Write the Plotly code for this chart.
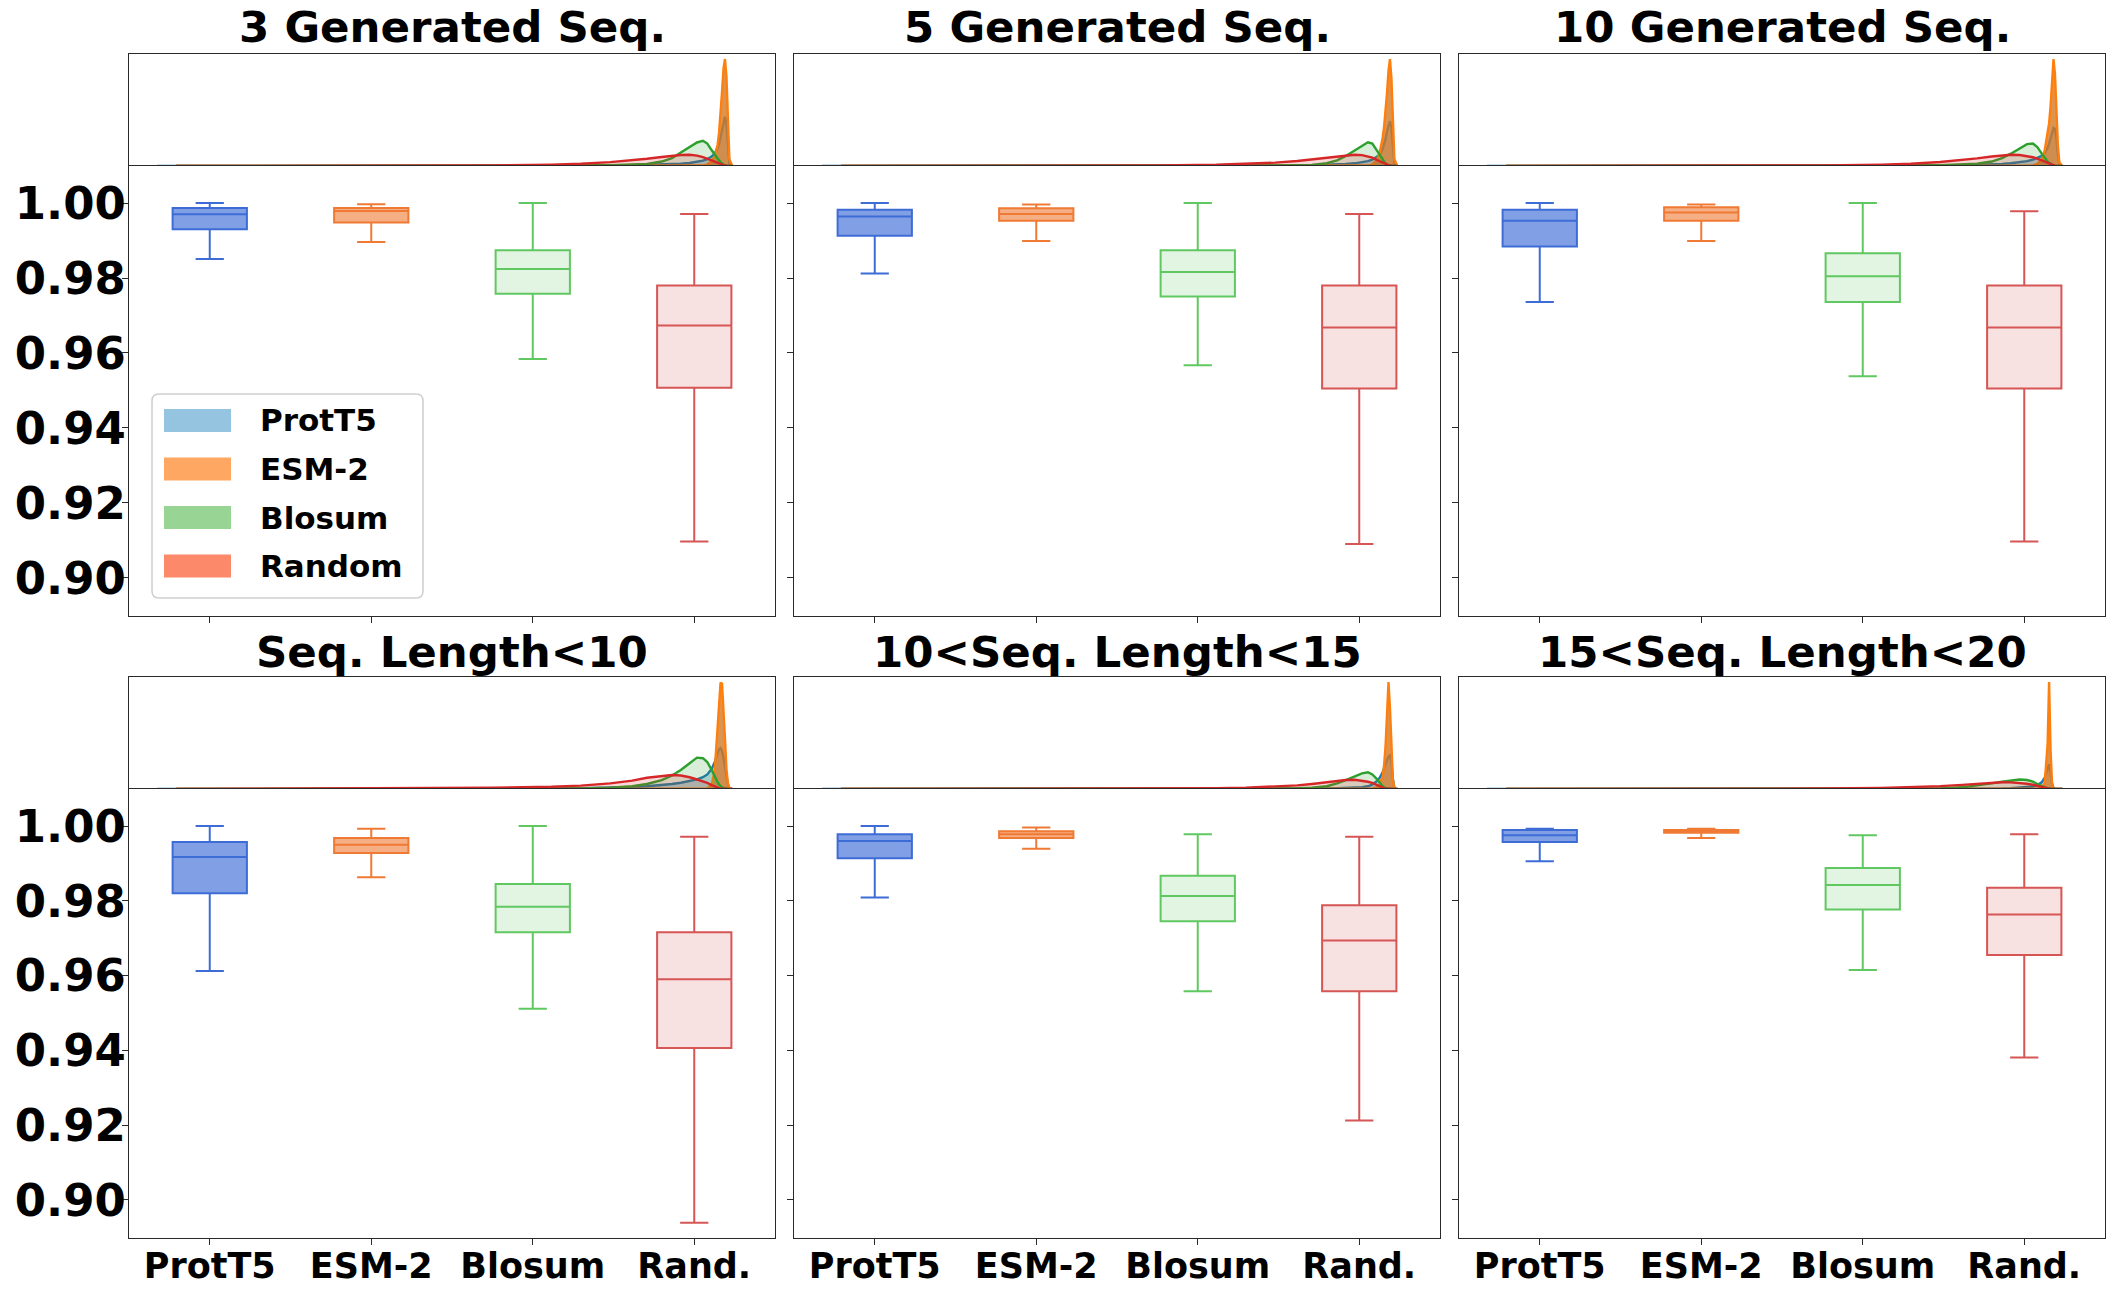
import plotly.graph_objects as go

W, H = 2114, 1295

CATEGORIES = ["ProtT5", "ESM-2", "Blosum", "Random"]
TICK_LABELS = ["ProtT5", "ESM-2", "Blosum", "Rand."]
PANEL_TITLES = ["3 Generated Seq.", "5 Generated Seq.", "10 Generated Seq.",
                "Seq. Length<10", "10<Seq. Length<15", "15<Seq. Length<20"]

# ---- box statistics, per panel, per category (ProtT5, ESM-2, Blosum, Random)
BOX_LOWER = [
    [0.9851, 0.9896, 0.9584, 0.9097],
    [0.9812, 0.9899, 0.9567, 0.9090],
    [0.9736, 0.9899, 0.9538, 0.9097],
    [0.9612, 0.9863, 0.9511, 0.8939],
    [0.9809, 0.9939, 0.9558, 0.9212],
    [0.9906, 0.9968, 0.9615, 0.9381],
]
BOX_Q1 = [
    [0.9930, 0.9948, 0.9758, 0.9507],
    [0.9913, 0.9953, 0.9751, 0.9505],
    [0.9884, 0.9953, 0.9736, 0.9505],
    [0.9820, 0.9928, 0.9716, 0.9406],
    [0.9914, 0.9968, 0.9745, 0.9558],
    [0.9957, 0.9982, 0.9777, 0.9655],
]
BOX_MEDIAN = [
    [0.9970, 0.9979, 0.9824, 0.9673],
    [0.9964, 0.9971, 0.9816, 0.9668],
    [0.9953, 0.9975, 0.9805, 0.9668],
    [0.9917, 0.9950, 0.9784, 0.9590],
    [0.9960, 0.9978, 0.9813, 0.9694],
    [0.9975, 0.9986, 0.9842, 0.9763],
]
BOX_Q3 = [
    [0.9987, 0.9987, 0.9874, 0.9780],
    [0.9982, 0.9986, 0.9874, 0.9780],
    [0.9982, 0.9989, 0.9866, 0.9780],
    [0.9957, 0.9968, 0.9845, 0.9716],
    [0.9978, 0.9986, 0.9867, 0.9788],
    [0.9989, 0.9989, 0.9888, 0.9835],
]
BOX_UPPER = [
    [1.0000, 0.9997, 1.0000, 0.9971],
    [1.0000, 0.9996, 1.0000, 0.9971],
    [1.0000, 0.9996, 1.0000, 0.9978],
    [1.0000, 0.9993, 1.0000, 0.9971],
    [1.0000, 0.9996, 0.9978, 0.9971],
    [0.9993, 0.9993, 0.9975, 0.9978],
]

# ---- density curves (top strips) (relative height)
KDE_X = [0.612, 0.625, 0.70, 0.78, 0.84, 0.88, 0.90, 0.92, 0.935, 0.945, 0.955,
         0.962, 0.968, 0.974, 0.979, 0.983, 0.986, 0.989, 0.991, 0.993, 0.994,
         0.995, 0.996, 0.997, 0.998, 0.999, 1.000, 1.001, 1.003]

KDE_PROTT5 = [
    [0, 0, 0, 0, 0.001, 0.002, 0.003, 0.005, 0.007, 0.009, 0.012, 0.015, 0.02, 0.027, 0.036, 0.048, 0.062, 0.085, 0.11, 0.16, 0.2, 0.26, 0.33, 0.4, 0.44, 0.38, 0.15, 0.02, 0],
    [0, 0, 0, 0, 0.001, 0.002, 0.003, 0.004, 0.006, 0.008, 0.011, 0.014, 0.018, 0.024, 0.032, 0.043, 0.056, 0.078, 0.1, 0.15, 0.19, 0.24, 0.31, 0.37, 0.40, 0.34, 0.14, 0.02, 0],
    [0, 0, 0, 0, 0.001, 0.002, 0.004, 0.006, 0.008, 0.011, 0.015, 0.019, 0.025, 0.033, 0.043, 0.056, 0.07, 0.09, 0.115, 0.16, 0.2, 0.25, 0.3, 0.34, 0.33, 0.25, 0.1, 0.015, 0],
    [0, 0, 0, 0, 0.002, 0.005, 0.008, 0.012, 0.018, 0.025, 0.035, 0.045, 0.056, 0.07, 0.086, 0.105, 0.13, 0.18, 0.24, 0.32, 0.355, 0.365, 0.34, 0.28, 0.2, 0.1, 0.04, 0.01, 0],
    [0, 0, 0, 0, 0, 0.001, 0.001, 0.002, 0.003, 0.004, 0.005, 0.007, 0.009, 0.012, 0.016, 0.024, 0.04, 0.07, 0.1, 0.15, 0.18, 0.22, 0.26, 0.29, 0.30, 0.24, 0.09, 0.01, 0],
    [0, 0, 0, 0, 0, 0.001, 0.001, 0.002, 0.003, 0.004, 0.005, 0.006, 0.008, 0.011, 0.015, 0.022, 0.035, 0.06, 0.1, 0.18, 0.22, 0.15, 0.05, 0.01, 0, 0, 0, 0, 0],
]
KDE_ESM2 = [
    [None, 0, 0, 0, 0, 0, 0, 0, 0, 0, 0, 0, 0, 0, 0, 0.004, 0.015, 0.04, 0.09, 0.19, 0.3, 0.46, 0.66, 0.87, 0.955, 0.8, 0.35, 0.06, 0],
    [None, 0, 0, 0, 0, 0, 0, 0, 0, 0, 0, 0, 0, 0, 0, 0.004, 0.015, 0.05, 0.12, 0.25, 0.35, 0.48, 0.65, 0.85, 0.955, 0.78, 0.34, 0.06, 0],
    [None, 0, 0, 0, 0, 0, 0, 0, 0, 0, 0, 0, 0, 0, 0, 0.005, 0.02, 0.06, 0.14, 0.28, 0.38, 0.53, 0.72, 0.955, 0.82, 0.48, 0.18, 0.03, 0],
    [None, 0, 0, 0, 0, 0, 0, 0, 0, 0, 0, 0, 0, 0, 0, 0, 0.005, 0.04, 0.16, 0.55, 0.8, 0.95, 0.94, 0.74, 0.45, 0.18, 0.05, 0.01, 0],
    [None, 0, 0, 0, 0, 0, 0, 0, 0, 0, 0, 0, 0, 0, 0, 0, 0.003, 0.015, 0.04, 0.11, 0.21, 0.38, 0.68, 0.955, 0.72, 0.33, 0.08, 0.01, 0],
    [None, 0, 0, 0, 0, 0, 0, 0, 0, 0, 0, 0, 0, 0, 0, 0, 0.002, 0.015, 0.05, 0.4, 0.955, 0.35, 0.05, 0.005, 0, 0, 0, 0, 0],
]
KDE_BLOSUM = [
    [None, 0, 0, 0, 0, 0.002, 0.004, 0.008, 0.012, 0.018, 0.04, 0.07, 0.12, 0.17, 0.21, 0.225, 0.2, 0.14, 0.1, 0.065, 0.05, 0.035, 0.02, 0.012, 0.006, 0.002, 0, 0, 0],
    [None, 0, 0, 0, 0, 0.001, 0.002, 0.004, 0.007, 0.01, 0.025, 0.05, 0.09, 0.14, 0.185, 0.212, 0.2, 0.14, 0.09, 0.05, 0.035, 0.022, 0.012, 0.006, 0.003, 0.001, 0, 0, 0],
    [None, 0, 0, 0, 0, 0.002, 0.004, 0.008, 0.013, 0.02, 0.04, 0.07, 0.11, 0.16, 0.195, 0.2, 0.17, 0.11, 0.07, 0.04, 0.028, 0.018, 0.01, 0.005, 0.002, 0, 0, 0, 0],
    [None, 0, 0, 0, 0.001, 0.003, 0.005, 0.012, 0.025, 0.045, 0.08, 0.12, 0.17, 0.23, 0.28, 0.275, 0.24, 0.17, 0.11, 0.06, 0.04, 0.025, 0.015, 0.008, 0.003, 0.001, 0, 0, 0],
    [None, 0, 0, 0, 0, 0.001, 0.002, 0.004, 0.007, 0.012, 0.025, 0.05, 0.08, 0.115, 0.14, 0.15, 0.13, 0.09, 0.055, 0.025, 0.015, 0.008, 0.004, 0.002, 0.001, 0, 0, 0, 0],
    [None, 0, 0, 0, 0, 0.001, 0.002, 0.005, 0.015, 0.03, 0.05, 0.065, 0.078, 0.085, 0.08, 0.065, 0.045, 0.025, 0.015, 0.007, 0.004, 0.002, 0.001, 0, 0, 0, 0, 0, 0],
]
KDE_RANDOM = [
    [None, 0, 0.001, 0.003, 0.006, 0.012, 0.02, 0.035, 0.05, 0.065, 0.08, 0.09, 0.098, 0.1, 0.093, 0.08, 0.068, 0.05, 0.04, 0.028, 0.022, 0.016, 0.011, 0.007, 0.004, 0.002, 0.001, 0, 0],
    [None, 0, 0.001, 0.003, 0.006, 0.011, 0.018, 0.03, 0.045, 0.058, 0.073, 0.085, 0.094, 0.1, 0.097, 0.088, 0.075, 0.055, 0.042, 0.03, 0.024, 0.017, 0.012, 0.008, 0.005, 0.002, 0.001, 0, 0],
    [None, 0, 0.001, 0.003, 0.006, 0.012, 0.02, 0.036, 0.052, 0.068, 0.085, 0.095, 0.1, 0.098, 0.09, 0.078, 0.065, 0.048, 0.037, 0.026, 0.02, 0.015, 0.01, 0.006, 0.003, 0.001, 0, 0, 0],
    [None, 0, 0.002, 0.006, 0.012, 0.02, 0.03, 0.05, 0.075, 0.1, 0.118, 0.125, 0.12, 0.105, 0.085, 0.07, 0.055, 0.035, 0.022, 0.012, 0.008, 0.005, 0.003, 0.002, 0.001, 0, 0, 0, 0],
    [None, 0, 0.001, 0.002, 0.004, 0.008, 0.012, 0.02, 0.032, 0.045, 0.06, 0.072, 0.08, 0.083, 0.075, 0.065, 0.055, 0.035, 0.022, 0.012, 0.008, 0.005, 0.003, 0.002, 0.001, 0, 0, 0, 0],
    [None, 0, 0.001, 0.002, 0.004, 0.01, 0.016, 0.026, 0.037, 0.047, 0.056, 0.06, 0.059, 0.055, 0.047, 0.038, 0.028, 0.016, 0.009, 0.004, 0.002, 0.001, 0, 0, 0, 0, 0, 0, 0],
]

# ---- styles
KDE_LINE = ["#1f77b4", "#ff7f0e", "#2ca02c", "#d62728"]
KDE_FILL = ["rgba(31,119,180,0.28)", "rgba(210,122,40,0.8)",
            "rgba(44,160,44,0.18)", "rgba(214,39,40,0.18)"]
BOX_LINE = ["rgb(62,108,214)", "rgb(240,122,52)", "rgb(96,200,96)", "rgb(214,86,86)"]
BOX_FILL = ["rgba(62,108,214,0.65)", "rgba(240,122,52,0.6)",
            "rgba(96,200,96,0.18)", "rgba(214,86,86,0.18)"]
LEGEND_PATCH = ["#94c4df", "#fda762", "#98d594", "#fc8a6a"]

FONT = "DejaVu Sans"
AXIS_COLOR = "#2a2a2a"
COLS_PX = [(129, 775), (794, 1440), (1459, 2105)]
ROWS_PX = [((54, 166), (166, 616)), ((677, 789), (789, 1238))]
TITLE_Y_PX = [27, 652]
STRIP_X_RANGE = [0.593, 1.032]
BOX_Y_RANGE = [0.8898, 1.0099]


def px(x):
    return x / W


def py(y):
    return 1 - y / H


fig = go.Figure()
layout = {}
kde_sets = [KDE_PROTT5, KDE_ESM2, KDE_BLOSUM, KDE_RANDOM]

for p in range(6):
    r, c = divmod(p, 3)
    xs, xb = 2 * p + 1, 2 * p + 2
    (st0, st1), (bx0, bx1) = ROWS_PX[r]
    cx0, cx1 = COLS_PX[c]

    # density strip
    for k in range(4):
        fig.add_trace(go.Scatter(
            x=KDE_X, y=kde_sets[k][p], mode="lines", fill="tozeroy",
            line=dict(color=KDE_LINE[k], width=2.4), fillcolor=KDE_FILL[k],
            showlegend=False, hoverinfo="skip",
            xaxis=f"x{xs}", yaxis=f"y{xs}"))
    # boxes
    for k in range(4):
        fig.add_trace(go.Box(
            x=[CATEGORIES[k]], q1=[BOX_Q1[p][k]], median=[BOX_MEDIAN[p][k]],
            q3=[BOX_Q3[p][k]], lowerfence=[BOX_LOWER[p][k]],
            upperfence=[BOX_UPPER[p][k]], boxpoints=False, width=0.46,
            whiskerwidth=0.38, line=dict(color=BOX_LINE[k], width=2),
            fillcolor=BOX_FILL[k], showlegend=False, name=CATEGORIES[k],
            xaxis=f"x{xb}", yaxis=f"y{xb}"))

    frame = dict(showline=True, linecolor=AXIS_COLOR, linewidth=1.3,
                 showgrid=False, zeroline=False)
    # strip: only top line from x axis (bottom line is the box panel's top)
    layout[f"xaxis{xs}"] = dict(domain=[px(cx0), px(cx1)], range=STRIP_X_RANGE,
                                side="top", mirror=False,
                                showticklabels=False, ticks="", anchor=f"y{xs}", **frame)
    layout[f"yaxis{xs}"] = dict(domain=[py(st1), py(st0)], range=[0, 1], mirror=True,
                                showticklabels=False, ticks="", anchor=f"x{xs}", **frame)
    layout[f"xaxis{xb}"] = dict(
        domain=[px(cx0), px(cx1)], type="category", categoryorder="array",
        categoryarray=CATEGORIES, tickvals=CATEGORIES, ticktext=TICK_LABELS,
        range=[-0.5, 3.5], ticks="outside", ticklen=6, tickwidth=1.3, tickcolor=AXIS_COLOR,
        showticklabels=(r == 1), anchor=f"y{xb}", mirror=True, ticklabelstandoff=-9,
        tickfont=dict(family=FONT, size=35, color="black", weight="bold"), **frame)
    layout[f"yaxis{xb}"] = dict(
        domain=[py(bx1), py(bx0)], range=BOX_Y_RANGE, tick0=0.90, dtick=0.02,
        tickformat=".2f", ticks="outside", ticklen=6, tickwidth=1.3, tickcolor=AXIS_COLOR,
        showticklabels=(c == 0), anchor=f"x{xb}", mirror=True, ticklabelstandoff=-13,
        tickfont=dict(family=FONT, size=45, color="black", weight="bold"), **frame)

annotations = []
for p in range(6):
    r, c = divmod(p, 3)
    cx0, cx1 = COLS_PX[c]
    annotations.append(dict(
        text=PANEL_TITLES[p], x=px((cx0 + cx1) / 2), y=py(TITLE_Y_PX[r]),
        xref="paper", yref="paper", xanchor="center", yanchor="middle",
        showarrow=False, font=dict(family=FONT, size=43.5, color="black", weight="bold")))

# legend (inside the first box panel)
shapes = []
LX0, LY0, LX1, LY1, RAD = 152, 394, 423, 598, 7
path = (f"M{px(LX0 + RAD)},{py(LY0)} L{px(LX1 - RAD)},{py(LY0)} "
        f"Q{px(LX1)},{py(LY0)} {px(LX1)},{py(LY0 + RAD)} "
        f"L{px(LX1)},{py(LY1 - RAD)} Q{px(LX1)},{py(LY1)} {px(LX1 - RAD)},{py(LY1)} "
        f"L{px(LX0 + RAD)},{py(LY1)} Q{px(LX0)},{py(LY1)} {px(LX0)},{py(LY1 - RAD)} "
        f"L{px(LX0)},{py(LY0 + RAD)} Q{px(LX0)},{py(LY0)} {px(LX0 + RAD)},{py(LY0)} Z")
shapes.append(dict(type="path", path=path, xref="paper", yref="paper",
                   line=dict(color="#d0d0d0", width=1.6), fillcolor="rgba(255,255,255,0.85)"))
for k in range(4):
    yc = 420.5 + k * 48.5
    shapes.append(dict(type="rect", xref="paper", yref="paper",
                       x0=px(164), x1=px(231), y0=py(yc - 11.5), y1=py(yc + 11.5),
                       line=dict(width=0), fillcolor=LEGEND_PATCH[k]))
    annotations.append(dict(
        text=CATEGORIES[k], x=px(258), y=py(yc), xref="paper", yref="paper",
        xanchor="left", yanchor="middle", showarrow=False,
        font=dict(family=FONT, size=31, color="black", weight="bold")))

fig.update_layout(
    width=W, height=H, autosize=False,
    margin=dict(l=0, r=0, t=0, b=0),
    paper_bgcolor="white", plot_bgcolor="white",
    showlegend=False, annotations=annotations, shapes=shapes,
    **layout)

fig.write_html("out.html", config={"displayModeBar": False},
               post_script="document.body.style.margin='0';document.body.style.overflow='hidden';")
